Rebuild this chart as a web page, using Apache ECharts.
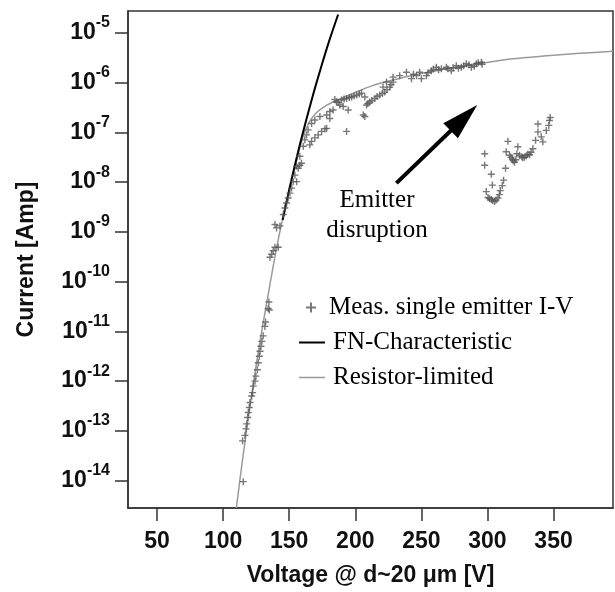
<!DOCTYPE html>
<html><head><meta charset="utf-8">
<script src="https://cdn.jsdelivr.net/npm/echarts@6/dist/echarts.min.js"></script>
<style>html,body{margin:0;padding:0;background:#fff}#c{width:615px;height:592px}</style>
</head><body><div id="c"></div>
<script>
// ---- data (log10 of current in A) ----
const xTicks = [50, 100, 150, 200, 250, 300, 350];
const yTickExps = [-14, -13, -12, -11, -10, -9, -8, -7, -6, -5];

const resV = [110, 115, 120, 125, 130, 135, 140, 145, 150, 155, 160, 165, 170, 175, 183, 198, 213, 228, 249, 270, 294, 319, 345, 370, 395];
const resLogI = [-14.55, -13.51, -12.56, -11.68, -10.87, -10.12, -9.38, -8.74, -8.18, -7.63, -7.12, -6.80, -6.62, -6.51, -6.39, -6.22, -6.06, -5.95, -5.82, -5.72, -5.62, -5.52, -5.46, -5.41, -5.37];

const fnV = [145, 150, 155, 160, 165, 170, 175, 180, 187];
const fnLogI = [-8.76, -8.15, -7.58, -7.04, -6.54, -6.06, -5.61, -5.18, -4.63];

const measV = [
 115.2,114.7,116.5,117.3,117.8,118.5,119.0,119.8,120.3,121.6,122.3,122.8,124.1,124.8,125.9,126.6,127.4,127.9,128.6,129.3,130.3,131.6,132.1,134.1,134.6,134.9,
 135.4,136.7,137.9,139.2,141.7,139.2,140.4,143.0,145.5,146.7,148.0,149.2,150.5,151.8,153.0,155.6,154.3,156.8,158.0,159.3,
 155.6,158.0,160.6,161.8,163.1,164.3,165.6,166.9,169.4,171.9,174.5,177.0,178.3,166.9,169.4,173.2,178.3,180.7,180.7,183.2,
 184.5,185.8,188.3,190.8,189.6,193.4,197.2,201.0,204.7,207.2,194.6,193.4,187.0,191.5,195.5,199.0,203.0,
 207.2,206.0,208.5,211.0,214.8,218.5,222.3,226.1,228.6,209.5,212.5,216.5,220.5,224.0,227.0,221.0,223.6,
 228.6,233.6,238.7,242.5,246.3,248.7,250.0,253.8,257.5,261.3,265.1,268.9,272.6,276.4,280.2,284.0,287.8,291.6,295.4,
 244.0,255.0,259.0,263.0,270.0,274.0,278.0,282.0,286.0,290.0,293.0,296.0,
 297.9,297.9,302.9,303.7,299.1,300.4,302.9,305.4,307.9,309.7,311.2,312.2,313.7,315.5,314.2,316.8,318.8,320.5,323.0,322.3,
 324.3,326.8,329.4,331.9,334.4,336.4,338.2,338.2,340.7,341.9,344.5,346.4,347.5,346.9,
 301.5,304.0,306.5,309.0,326.0,328.0,330.5,333.0,321.5,319.5,317.8
];
const measLogI = [
 -14.02,-13.20,-13.09,-12.96,-12.86,-12.73,-12.63,-12.53,-12.43,-12.30,-12.23,-12.10,-12.00,-11.90,-11.77,-11.63,-11.50,-11.40,-11.30,-11.20,-11.09,-10.90,-10.81,-10.54,-10.41,-10.57,
 -9.51,-9.45,-9.38,-9.31,-9.31,-8.85,-8.92,-8.88,-8.65,-8.52,-8.42,-8.32,-8.22,-8.12,-7.99,-7.99,-7.86,-7.72,-7.66,-7.62,
 -7.68,-7.48,-7.28,-7.15,-7.05,-6.95,-7.25,-7.18,-7.11,-7.05,-6.98,-6.93,-6.92,-6.82,-6.75,-6.68,-6.65,-6.58,-6.72,-6.55,
 -6.34,-6.39,-6.45,-6.48,-6.35,-6.32,-6.29,-6.25,-6.21,-6.29,-6.55,-6.98,-6.40,-6.33,-6.30,-6.27,-6.23,
 -6.68,-6.65,-6.45,-6.39,-6.32,-6.25,-6.19,-6.09,-5.99,-6.42,-6.36,-6.28,-6.22,-6.14,-6.04,-6.09,-5.99,
 -5.89,-5.86,-5.79,-5.92,-5.86,-5.79,-5.92,-5.86,-5.76,-5.69,-5.72,-5.69,-5.76,-5.66,-5.69,-5.62,-5.69,-5.62,-5.59,
 -5.83,-5.80,-5.73,-5.74,-5.72,-5.70,-5.71,-5.66,-5.64,-5.67,-5.60,-5.63,
 -7.43,-7.66,-7.84,-8.06,-8.19,-8.31,-8.35,-8.39,-8.32,-8.17,-8.07,-7.96,-7.72,-7.18,-7.39,-7.46,-7.54,-7.60,-7.29,-7.43,
 -7.46,-7.51,-7.47,-7.45,-7.33,-7.16,-6.99,-6.83,-7.09,-7.19,-6.96,-6.86,-6.70,-6.76,
 -8.33,-8.37,-8.36,-8.25,-7.49,-7.50,-7.44,-7.40,-7.55,-7.57,-7.50
];

const arrowFrom = [231.1, -8.02];
const arrowTo = [282.2, -6.71];
const xRange = [28, 395];
const yRangeExp = [-14.55, -4.56];

const names = ['Meas. single emitter I-V', 'FN-Characteristic', 'Resistor-limited'];

// ---- build ----
const p10 = e => Math.pow(10, e);
const pairs = (xs, es) => xs.map((x, i) => [x, p10(es[i])]);
const plusPath = 'path://M4,0H6V4H10V6H6V10H4V6H0V4H4Z';
const sans = 'Liberation Sans';
const serif = 'Liberation Serif';

const chart = echarts.init(document.getElementById('c'), null, {renderer: 'canvas'});
const legendText = {fontFamily: serif, fontSize: 25, color: '#000'};
chart.setOption({
  animation: false,
  backgroundColor: '#fff',
  grid: {left: 128, top: 11, right: 2, bottom: 79, show: true, borderColor: '#333', borderWidth: 1.5, backgroundColor: 'transparent'},
  xAxis: {
    type: 'value', min: xRange[0], max: xRange[1],
    axisLine: {show: true, lineStyle: {color: '#333', width: 1.5}},
    axisTick: {show: true, inside: false, length: 13, customValues: xTicks, lineStyle: {color: '#333', width: 1.5}},
    axisLabel: {customValues: xTicks, margin: 22, fontFamily: sans, fontWeight: 'bold', fontSize: 23, color: '#111'},
    splitLine: {show: false},
    name: 'Voltage @ d~20 μm [V]', nameLocation: 'middle', nameGap: 56,
    nameTextStyle: {fontFamily: sans, fontWeight: 'bold', fontSize: 23, color: '#111'}
  },
  yAxis: {
    type: 'log', logBase: 10, min: p10(yRangeExp[0]), max: p10(yRangeExp[1]),
    axisLine: {show: true, lineStyle: {color: '#333', width: 1.5}},
    axisTick: {show: true, inside: false, length: 13, customValues: yTickExps.map(p10), lineStyle: {color: '#333', width: 1.5}},
    axisLabel: {
      customValues: yTickExps.map(p10), margin: 18, color: '#111',
      formatter: v => '{b|10}{s|' + Math.round(Math.log10(v)) + '}',
      rich: {
        b: {fontFamily: sans, fontWeight: 'bold', fontSize: 23, color: '#111'},
        s: {fontFamily: sans, fontWeight: 'bold', fontSize: 16, color: '#111', padding: [0, 0, 20, 0]}
      }
    },
    splitLine: {show: false}, minorTick: {show: false},
    name: 'Current [Amp]', nameLocation: 'middle', nameGap: 90, nameRotate: 90,
    nameTextStyle: {fontFamily: sans, fontWeight: 'bold', fontSize: 23, color: '#111'}
  },
  legend: [
    {data: [{name: names[0], icon: plusPath}], left: 306, top: 295, padding: 0, itemWidth: 10, itemHeight: 10,
     textStyle: Object.assign({padding: [0, 0, 0, 8]}, legendText), selectedMode: false},
    {data: [{name: names[1], icon: 'rect'}], left: 299, top: 330, padding: 0, itemWidth: 26, itemHeight: 2,
     textStyle: Object.assign({padding: [0, 0, 0, 3]}, legendText), selectedMode: false},
    {data: [{name: names[2], icon: 'rect'}], left: 299, top: 365, padding: 0, itemWidth: 26, itemHeight: 1.5,
     textStyle: Object.assign({padding: [0, 0, 0, 3]}, legendText), selectedMode: false}
  ],
  graphic: [
    {type: 'text', left: 'auto', x: 377, y: 200, style: {text: 'Emitter', font: '25px "Liberation Serif"', fill: '#000', textAlign: 'center', textVerticalAlign: 'middle'}},
    {type: 'text', x: 377, y: 230, style: {text: 'disruption', font: '25px "Liberation Serif"', fill: '#000', textAlign: 'center', textVerticalAlign: 'middle'}}
  ],
  series: [
    {name: names[2], type: 'line', data: pairs(resV, resLogI), showSymbol: false, smooth: 0.3, z: 2,
     lineStyle: {color: '#9a9a9a', width: 1.5}, itemStyle: {color: '#9a9a9a'}, emphasis: {disabled: true}},
    {name: names[1], type: 'line', data: pairs(fnV, fnLogI), showSymbol: false, smooth: 0.3, z: 3,
     lineStyle: {color: '#000', width: 2}, itemStyle: {color: '#000'}, emphasis: {disabled: true}},
    {name: names[0], type: 'scatter', data: pairs(measV, measLogI), symbol: plusPath, symbolSize: 7, z: 4,
     itemStyle: {color: '#555'}, emphasis: {disabled: true},
     markLine: {silent: true, animation: false, label: {show: false}, emphasis: {disabled: true},
       lineStyle: {color: '#000', width: 4, type: 'solid'},
       data: [[{coord: [arrowFrom[0], p10(arrowFrom[1])], symbol: 'none'},
               {coord: [arrowTo[0], p10(arrowTo[1])], symbol: 'triangle', symbolSize: [21, 37]}]]}}
  ]
});
</script></body></html>
